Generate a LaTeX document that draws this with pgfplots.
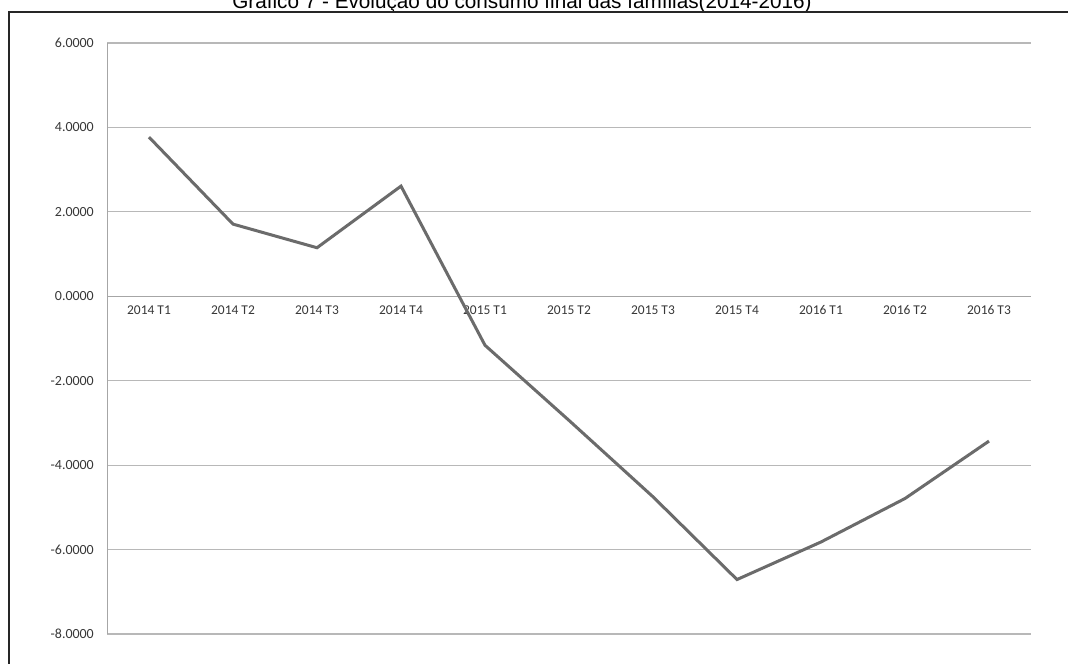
\documentclass[border=0pt]{standalone}
\usepackage{pgfplots}
\pgfplotsset{compat=1.18}
\usepackage{fontspec}
\setmainfont{Carlito}
\newfontfamily\arial{Liberation Sans}
\begin{document}
\begin{tikzpicture}
\useasboundingbox (0bp,0bp) rectangle (1068bp,-664bp);
\clip (0bp,0bp) rectangle (1068bp,-664bp);
\fill[white] (0bp,0bp) rectangle (1068bp,-664bp);
\node[anchor=base, font=\arial\fontsize{20.8}{25}\selectfont, text=black] at (522bp,-8bp) {Gráfico 7 - Evolução do consumo final das famílias(2014-2016)};
\draw[black!85, line width=1.6bp] (9bp,-700bp) -- (9bp,-12bp) -- (1100bp,-12bp);
\begin{axis}[
  at={(107bp,-634bp)}, anchor=south west,
  scale only axis, width=924bp, height=591bp,
  xmin=-0.5, xmax=10.5, ymin=-8, ymax=6,
  axis x line=middle, axis y line=left,
  hide obscured x ticks=false, hide obscured y ticks=false,
  axis line style={-, draw=black!35, line width=1bp},
  xtick={0,...,10},
  xticklabels={2014 T1,2014 T2,2014 T3,2014 T4,2015 T1,2015 T2,2015 T3,2015 T4,2016 T1,2016 T2,2016 T3},
  ytick={-8,-6,-4,-2,0,2,4,6},
  yticklabels={-8.0000,-6.0000,-4.0000,-2.0000,0.0000,2.0000,4.0000,6.0000},
  ymajorgrids, grid style={black!28, line width=1.2bp},
  major tick length=0pt,
  tick label style={text=black!78},
  xticklabel style={font=\fontsize{13.5}{16}\selectfont, anchor=center, yshift=-14bp},
  yticklabel style={font=\fontsize{14}{16}\selectfont, anchor=east, inner sep=0pt, xshift=-13bp},
  clip=false,
]
\addplot[color=black!58, line width=3bp, mark=none] coordinates {
(0,3.77) (1,1.71) (2,1.15) (3,2.61) (4,-1.16) (5,-2.94) (6,-4.75) (7,-6.71) (8,-5.82) (9,-4.79) (10,-3.43)
};
\end{axis}
\end{tikzpicture}
\end{document}
